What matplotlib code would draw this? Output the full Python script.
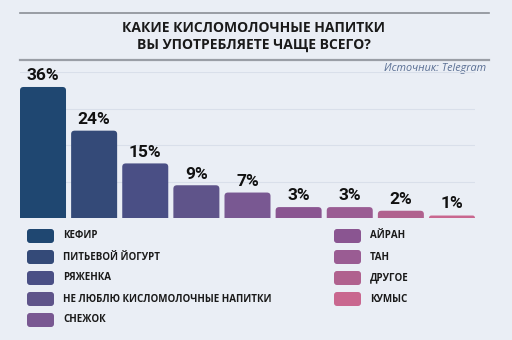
import matplotlib
matplotlib.use("Agg")
import matplotlib.pyplot as plt
from matplotlib.patches import FancyBboxPatch
from matplotlib import font_manager

categories = ["КЕФИР", "ПИТЬЕВОЙ ЙОГУРТ", "РЯЖЕНКА", "НЕ ЛЮБЛЮ КИСЛОМОЛОЧНЫЕ НАПИТКИ",
              "СНЕЖОК", "АЙРАН", "ТАН", "ДРУГОЕ", "КУМЫС"]
values = [36, 24, 15, 9, 7, 3, 3, 2, 1]
colors = ["#1f4771", "#344a78", "#4a4f85", "#5f548a", "#795892",
          "#8a5591", "#9a5c93", "#b0618e", "#c9678f"]

bg = "#eaeef5"
plt.rcParams["font.family"] = ["Open Sans", "DejaVu Sans"]

names = {f.name for f in font_manager.fontManager.ttflist}
narrow = "Liberation Sans Narrow" if "Liberation Sans Narrow" in names else "Roboto"

fig = plt.figure(figsize=(5.12, 3.4), dpi=100, facecolor=bg)

# overlay in pixel coords for title, rules, legend
ov = fig.add_axes([0, 0, 1, 1])
ov.set_xlim(0, 512)
ov.set_ylim(340, 0)
ov.axis("off")
ov.patch.set_alpha(0)

ov.plot([20, 489], [13, 13], color="#8a8e96", lw=1.2)
ov.plot([20, 489], [60, 60], color="#9a9ea6", lw=1.6)
ov.text(254, 28, "КАКИЕ КИСЛОМОЛОЧНЫЕ НАПИТКИ", ha="center", va="center",
        fontsize=10, fontweight="bold", color="#1a1a1a")
ov.text(254, 45, "ВЫ УПОТРЕБЛЯЕТЕ ЧАЩЕ ВСЕГО?", ha="center", va="center",
        fontsize=10, fontweight="bold", color="#1a1a1a")
ov.text(486, 68, "Источник: Telegram", ha="right", va="center",
        fontsize=7.8, style="italic", color="#5a6f94")

# legend
for i, (lab, c) in enumerate(zip(categories, colors)):
    if i < 5:
        x0, y0 = 27, 236 + 21 * i
    else:
        x0, y0 = 334, 236 + 21 * (i - 5)
    ov.add_patch(FancyBboxPatch((x0 + 3, y0 - 4), 21, 8,
                                boxstyle="round,pad=3", fc=c, ec="none"))
    ov.text(x0 + 36, y0, lab, ha="left", va="center", fontsize=7,
            fontweight="bold", color="#1a1a1a")

# bars
ax = fig.add_axes([20 / 512, 122 / 340, 455 / 512, 145.6 / 340])
ax.set_facecolor("none")
ax.set_xlim(-0.45, len(values) - 0.55)
ax.set_ylim(0, 40)
ax.set_yticks([10, 20, 30, 40])
ax.grid(axis="y", color="#d9dfea", lw=0.8)
ax.set_axisbelow(True)
for s in ax.spines.values():
    s.set_visible(False)
ax.tick_params(left=False, bottom=False, labelleft=False, labelbottom=False)

w = 0.9
for i, (v, c) in enumerate(zip(values, colors)):
    r = min(0.07, v * 0.07 / 1.5)
    p = FancyBboxPatch((i - w / 2 + r, -2), w - 2 * r, v + 2 - 0.95,
                       boxstyle=f"round,pad={r}", mutation_aspect=13.5,
                       fc=c, ec="none", clip_on=True)
    ax.add_patch(p)
    ax.text(i, v + 1.0, f"{v}%", ha="center", va="bottom", fontsize=12.5,
            fontweight="bold", color="#111111", family=[narrow, "DejaVu Sans"])

fig.savefig("out.png", dpi=100, facecolor=bg)
